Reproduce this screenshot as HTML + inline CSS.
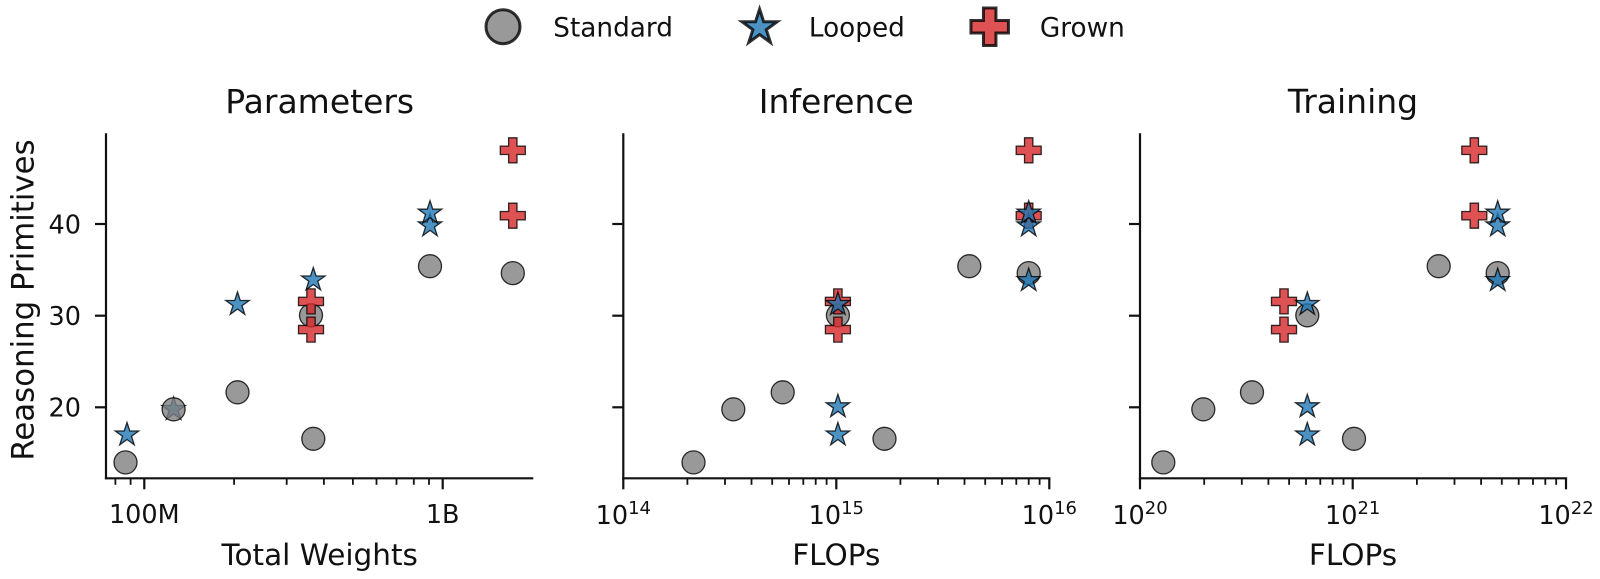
<!DOCTYPE html>
<html>
<head>
<meta charset="utf-8">
<style>
  html, body { margin: 0; padding: 0; background: #ffffff; }
  svg { display: block; }
  text { font-family: "DejaVu Sans", "Liberation Sans", sans-serif; fill: #111; }
</style>
</head>
<body>
<svg width="1600" height="579" viewBox="0 0 1600 579" xmlns="http://www.w3.org/2000/svg">
  <defs>
    <circle id="c" cx="0" cy="0" r="11.5" fill="#808080" fill-opacity="0.8" stroke="#000" stroke-opacity="0.8" stroke-width="1.3"/>
    <path id="s" d="M0,-12.3 L2.76,-3.8 L11.7,-3.8 L4.47,1.45 L7.23,9.95 L0,4.7 L-7.23,9.95 L-4.47,1.45 L-11.7,-3.8 L-2.76,-3.8 Z" fill="#1f77b4" fill-opacity="0.8" stroke="#000" stroke-opacity="0.8" stroke-width="1.3" stroke-linejoin="miter"/>
    <path id="p" d="M-4.17,-12.5 H4.17 V-4.17 H12.5 V4.17 H4.17 V12.5 H-4.17 V4.17 H-12.5 V-4.17 H-4.17 Z" fill="#d62728" fill-opacity="0.8" stroke="#000" stroke-opacity="0.8" stroke-width="1.3"/>
  </defs>

  <!-- Legend -->
  <circle cx="503" cy="26.7" r="17" fill="#808080" fill-opacity="0.8" stroke="#000" stroke-opacity="0.8" stroke-width="3"/>
  <text x="553.3" y="36.7" font-size="26.3">Standard</text>
  <g transform="translate(759.6,27.5) scale(1.5)">
    <path d="M0,-12.3 L2.76,-3.8 L11.7,-3.8 L4.47,1.45 L7.23,9.95 L0,4.7 L-7.23,9.95 L-4.47,1.45 L-11.7,-3.8 L-2.76,-3.8 Z" fill="#1f77b4" fill-opacity="0.8" stroke="#000" stroke-opacity="0.8" stroke-width="2"/>
  </g>
  <text x="808.9" y="36.7" font-size="26.3">Looped</text>
  <g transform="translate(989.7,26.7) scale(1.5)">
    <path d="M-4.17,-12.5 H4.17 V-4.17 H12.5 V4.17 H4.17 V12.5 H-4.17 V4.17 H-12.5 V-4.17 H-4.17 Z" fill="#d62728" fill-opacity="0.8" stroke="#000" stroke-opacity="0.8" stroke-width="2"/>
  </g>
  <text x="1039.9" y="36.7" font-size="26.3">Grown</text>

  <!-- Titles -->
  <text x="319.7" y="113" font-size="33" text-anchor="middle">Parameters</text>
  <text x="836.3" y="113" font-size="33" text-anchor="middle">Inference</text>
  <text x="1353" y="113" font-size="33" text-anchor="middle">Training</text>

  <!-- Y label -->
  <text transform="translate(33.5,300) rotate(-90)" font-size="30.8" text-anchor="middle">Reasoning Primitives</text>

  <!-- X labels -->
  <text x="319.7" y="565" font-size="29.5" text-anchor="middle">Total Weights</text>
  <text x="836.3" y="565" font-size="29.5" text-anchor="middle">FLOPs</text>
  <text x="1353" y="565" font-size="29.5" text-anchor="middle">FLOPs</text>

  <!-- ===== Panel 1 axes ===== -->
  <g stroke="#111" stroke-width="2.2" fill="none" stroke-linecap="butt">
    <line x1="106" y1="133.3" x2="106" y2="479.4"/>
    <line x1="104.9" y1="478.3" x2="533.3" y2="478.3"/>
    <line x1="95" y1="224" x2="106" y2="224"/>
    <line x1="95" y1="315.7" x2="106" y2="315.7"/>
    <line x1="95" y1="407.3" x2="106" y2="407.3"/>
    <line x1="144.3" y1="478.3" x2="144.3" y2="489.3"/>
    <line x1="442.7" y1="478.3" x2="442.7" y2="489.3"/>
  </g>
  <g stroke="#111" stroke-width="1.8">
    <line x1="115.4" y1="478.3" x2="115.4" y2="484.8"/>
    <line x1="130.6" y1="478.3" x2="130.6" y2="484.8"/>
    <line x1="234.1" y1="478.3" x2="234.1" y2="484.8"/>
    <line x1="286.7" y1="478.3" x2="286.7" y2="484.8"/>
    <line x1="323.9" y1="478.3" x2="323.9" y2="484.8"/>
    <line x1="352.9" y1="478.3" x2="352.9" y2="484.8"/>
    <line x1="376.5" y1="478.3" x2="376.5" y2="484.8"/>
    <line x1="396.5" y1="478.3" x2="396.5" y2="484.8"/>
    <line x1="413.8" y1="478.3" x2="413.8" y2="484.8"/>
    <line x1="429.0" y1="478.3" x2="429.0" y2="484.8"/>
  </g>
  <text x="81" y="233.3" font-size="25.5" text-anchor="end">40</text>
  <text x="81" y="325" font-size="25.5" text-anchor="end">30</text>
  <text x="81" y="416.6" font-size="25.5" text-anchor="end">20</text>
  <text x="144.3" y="523" font-size="25.5" text-anchor="middle">100M</text>
  <text x="442.7" y="523" font-size="25.5" text-anchor="middle">1B</text>

  <!-- Panel 1 markers -->
  <use href="#s" x="173.6" y="409.3"/>
  <use href="#c" x="125.5" y="462.4"/>
  <use href="#c" x="173.6" y="409.3"/>
  <use href="#c" x="237.5" y="392.3"/>
  <use href="#c" x="313.3" y="438.8"/>
  <use href="#c" x="430" y="266.2"/>
  <use href="#c" x="512.8" y="273.1"/>
  <use href="#s" x="127" y="434.8"/>
  <use href="#s" x="237.5" y="304.3"/>
  <use href="#s" x="313.3" y="279.8"/>
  <use href="#s" x="430" y="225.7"/>
  <use href="#s" x="430" y="213"/>
  <use href="#c" x="311" y="315.3"/>
  <use href="#p" x="311" y="301.4"/>
  <use href="#p" x="311" y="329.6"/>
  <use href="#p" x="512.8" y="150.3"/>
  <use href="#p" x="512.8" y="215.7"/>

  <!-- ===== Panel 2 axes ===== -->
  <g stroke="#111" stroke-width="2.2" fill="none">
    <line x1="623.3" y1="133.3" x2="623.3" y2="479.4"/>
    <line x1="622.2" y1="478.3" x2="1050.4" y2="478.3"/>
    <line x1="612.3" y1="224" x2="623.3" y2="224"/>
    <line x1="612.3" y1="315.7" x2="623.3" y2="315.7"/>
    <line x1="612.3" y1="407.3" x2="623.3" y2="407.3"/>
    <line x1="623.3" y1="478.3" x2="623.3" y2="489.3"/>
    <line x1="836.3" y1="478.3" x2="836.3" y2="489.3"/>
    <line x1="1049.3" y1="478.3" x2="1049.3" y2="489.3"/>
  </g>
  <g stroke="#111" stroke-width="1.8">
    <line x1="687.4" y1="478.3" x2="687.4" y2="484.8"/>
    <line x1="725.0" y1="478.3" x2="725.0" y2="484.8"/>
    <line x1="751.5" y1="478.3" x2="751.5" y2="484.8"/>
    <line x1="772.2" y1="478.3" x2="772.2" y2="484.8"/>
    <line x1="789.0" y1="478.3" x2="789.0" y2="484.8"/>
    <line x1="803.3" y1="478.3" x2="803.3" y2="484.8"/>
    <line x1="815.7" y1="478.3" x2="815.7" y2="484.8"/>
    <line x1="826.6" y1="478.3" x2="826.6" y2="484.8"/>
    <line x1="900.4" y1="478.3" x2="900.4" y2="484.8"/>
    <line x1="938.0" y1="478.3" x2="938.0" y2="484.8"/>
    <line x1="964.5" y1="478.3" x2="964.5" y2="484.8"/>
    <line x1="985.2" y1="478.3" x2="985.2" y2="484.8"/>
    <line x1="1002.0" y1="478.3" x2="1002.0" y2="484.8"/>
    <line x1="1016.3" y1="478.3" x2="1016.3" y2="484.8"/>
    <line x1="1028.7" y1="478.3" x2="1028.7" y2="484.8"/>
    <line x1="1039.6" y1="478.3" x2="1039.6" y2="484.8"/>
  </g>
  <text x="623.3" y="524" font-size="25.5" text-anchor="middle">10<tspan dy="-10" font-size="18">14</tspan></text>
  <text x="836.3" y="524" font-size="25.5" text-anchor="middle">10<tspan dy="-10" font-size="18">15</tspan></text>
  <text x="1049.3" y="524" font-size="25.5" text-anchor="middle">10<tspan dy="-10" font-size="18">16</tspan></text>

  <!-- Panel 2 markers -->
  <use href="#c" x="693.5" y="462.4"/>
  <use href="#c" x="733.3" y="409.3"/>
  <use href="#c" x="782.7" y="392.3"/>
  <use href="#c" x="884.5" y="438.8"/>
  <use href="#c" x="837.9" y="315.3"/>
  <use href="#c" x="969.3" y="266.2"/>
  <use href="#c" x="1028.7" y="273.1"/>
  <use href="#p" x="837.9" y="301.4"/>
  <use href="#p" x="837.9" y="329.6"/>
  <use href="#p" x="1028.7" y="150.3"/>
  <use href="#p" x="1028.7" y="215.7"/>
  <use href="#s" x="837.9" y="304.3"/>
  <use href="#s" x="837.9" y="406.6"/>
  <use href="#s" x="837.9" y="434.8"/>
  <use href="#s" x="1028.7" y="225.7"/>
  <use href="#s" x="1028.7" y="213"/>
  <use href="#s" x="1028.7" y="280.4"/>

  <!-- ===== Panel 3 axes ===== -->
  <g stroke="#111" stroke-width="2.2" fill="none">
    <line x1="1140" y1="133.3" x2="1140" y2="479.4"/>
    <line x1="1138.9" y1="478.3" x2="1567.1" y2="478.3"/>
    <line x1="1129" y1="224" x2="1140" y2="224"/>
    <line x1="1129" y1="315.7" x2="1140" y2="315.7"/>
    <line x1="1129" y1="407.3" x2="1140" y2="407.3"/>
    <line x1="1140" y1="478.3" x2="1140" y2="489.3"/>
    <line x1="1352.7" y1="478.3" x2="1352.7" y2="489.3"/>
    <line x1="1566" y1="478.3" x2="1566" y2="489.3"/>
  </g>
  <g stroke="#111" stroke-width="1.8">
    <line x1="1204.2" y1="478.3" x2="1204.2" y2="484.8"/>
    <line x1="1241.8" y1="478.3" x2="1241.8" y2="484.8"/>
    <line x1="1268.4" y1="478.3" x2="1268.4" y2="484.8"/>
    <line x1="1289.1" y1="478.3" x2="1289.1" y2="484.8"/>
    <line x1="1306.0" y1="478.3" x2="1306.0" y2="484.8"/>
    <line x1="1320.3" y1="478.3" x2="1320.3" y2="484.8"/>
    <line x1="1332.6" y1="478.3" x2="1332.6" y2="484.8"/>
    <line x1="1343.5" y1="478.3" x2="1343.5" y2="484.8"/>
    <line x1="1416.9" y1="478.3" x2="1416.9" y2="484.8"/>
    <line x1="1454.5" y1="478.3" x2="1454.5" y2="484.8"/>
    <line x1="1481.1" y1="478.3" x2="1481.1" y2="484.8"/>
    <line x1="1501.8" y1="478.3" x2="1501.8" y2="484.8"/>
    <line x1="1518.7" y1="478.3" x2="1518.7" y2="484.8"/>
    <line x1="1533.0" y1="478.3" x2="1533.0" y2="484.8"/>
    <line x1="1545.3" y1="478.3" x2="1545.3" y2="484.8"/>
    <line x1="1556.2" y1="478.3" x2="1556.2" y2="484.8"/>
  </g>
  <text x="1140" y="524" font-size="25.5" text-anchor="middle">10<tspan dy="-10" font-size="18">20</tspan></text>
  <text x="1352.7" y="524" font-size="25.5" text-anchor="middle">10<tspan dy="-10" font-size="18">21</tspan></text>
  <text x="1566" y="524" font-size="25.5" text-anchor="middle">10<tspan dy="-10" font-size="18">22</tspan></text>

  <!-- Panel 3 markers -->
  <use href="#c" x="1163.3" y="462.4"/>
  <use href="#c" x="1203.3" y="409.3"/>
  <use href="#c" x="1252" y="392.3"/>
  <use href="#c" x="1354" y="438.8"/>
  <use href="#c" x="1307.3" y="315.3"/>
  <use href="#c" x="1438.7" y="266.2"/>
  <use href="#c" x="1497.7" y="273.1"/>
  <use href="#p" x="1284" y="301.4"/>
  <use href="#p" x="1284" y="329.6"/>
  <use href="#p" x="1474.3" y="150.3"/>
  <use href="#p" x="1474.3" y="215.7"/>
  <use href="#s" x="1307.3" y="304.3"/>
  <use href="#s" x="1307.3" y="406.6"/>
  <use href="#s" x="1307.3" y="434.8"/>
  <use href="#s" x="1497.7" y="225.7"/>
  <use href="#s" x="1497.7" y="213"/>
  <use href="#s" x="1497.7" y="280.4"/>
</svg>
</body>
</html>
